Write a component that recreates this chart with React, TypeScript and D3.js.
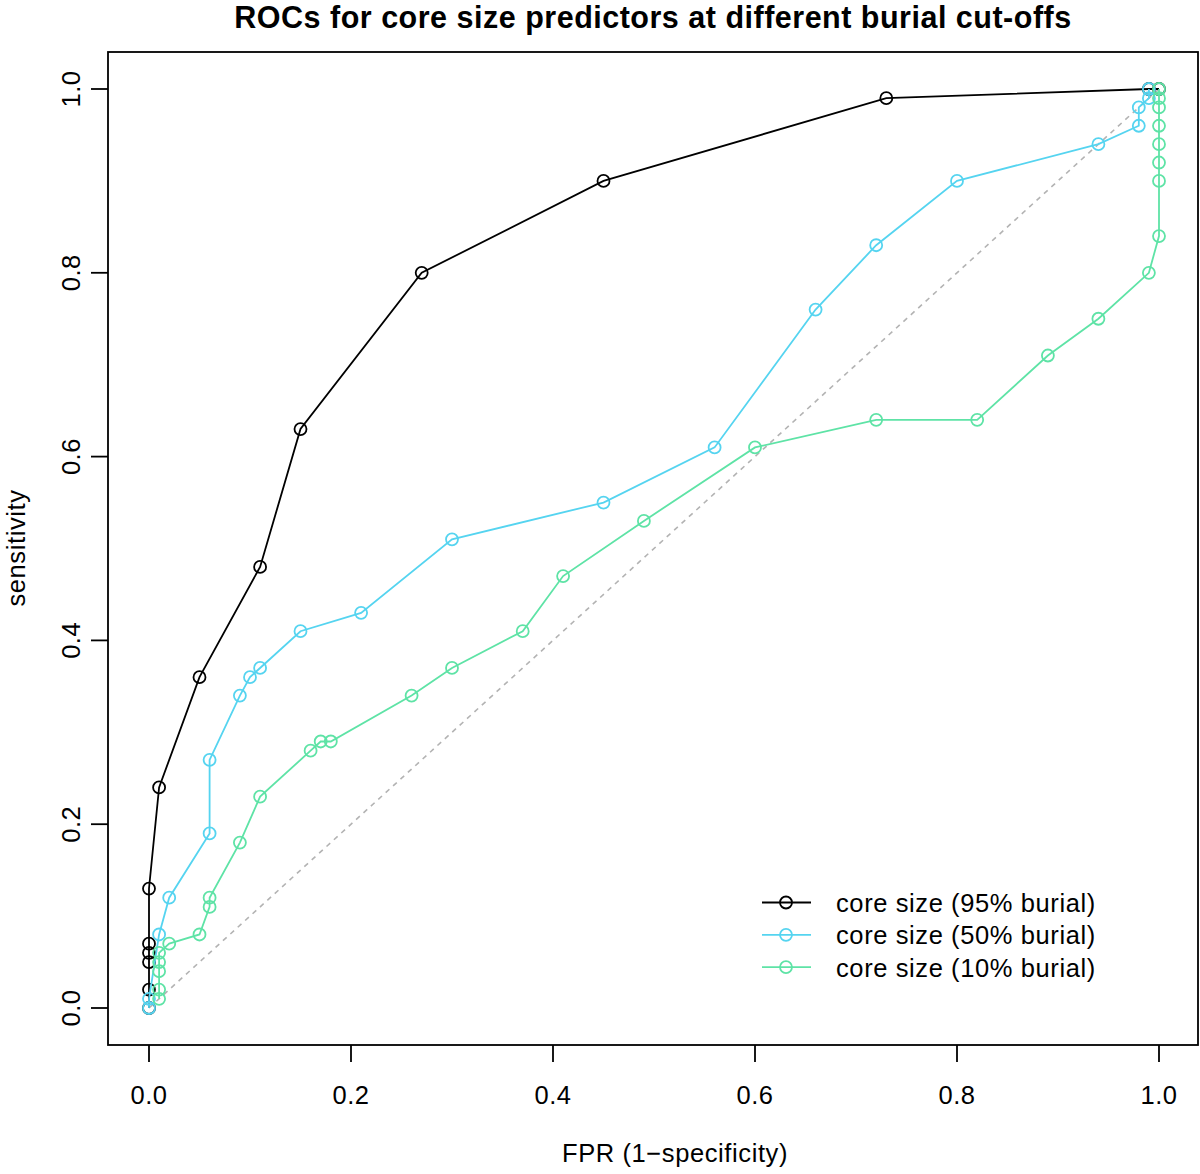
import React from "react";
import * as d3 from "d3";

const xTicks = [0, 0.2, 0.4, 0.6, 0.8, 1.0];
const yTicks = [0, 0.2, 0.4, 0.6, 0.8, 1.0];

const fpr95 = [0, 0, 0, 0, 0, 0, 0.01, 0.05, 0.11, 0.15, 0.27, 0.45, 0.73, 0.99, 1.0];
const tpr95 = [0, 0.02, 0.05, 0.06, 0.07, 0.13, 0.24, 0.36, 0.48, 0.63, 0.8, 0.9, 0.99, 1.0, 1.0];

const fpr50 = [0, 0, 0.01, 0.02, 0.06, 0.06, 0.09, 0.1, 0.11, 0.15, 0.21, 0.3, 0.45, 0.56, 0.66, 0.72, 0.8, 0.94, 0.98, 0.98, 0.99, 0.99];
const tpr50 = [0, 0.01, 0.08, 0.12, 0.19, 0.27, 0.34, 0.36, 0.37, 0.41, 0.43, 0.51, 0.55, 0.61, 0.76, 0.83, 0.9, 0.94, 0.96, 0.98, 0.99, 1.0];

const fpr10 = [0.01, 0.01, 0.01, 0.01, 0.01, 0.02, 0.05, 0.06, 0.06, 0.09, 0.11, 0.16, 0.17, 0.18, 0.26, 0.3, 0.37, 0.41, 0.49, 0.6, 0.72, 0.82, 0.89, 0.94, 0.99, 1.0, 1.0, 1.0, 1.0, 1.0, 1.0, 1.0, 1.0];
const tpr10 = [0.01, 0.02, 0.04, 0.05, 0.06, 0.07, 0.08, 0.11, 0.12, 0.18, 0.23, 0.28, 0.29, 0.29, 0.34, 0.37, 0.41, 0.47, 0.53, 0.61, 0.64, 0.64, 0.71, 0.75, 0.8, 0.84, 0.9, 0.92, 0.94, 0.96, 0.98, 0.99, 1.0];

const seriesNames = ["core size (95% burial)", "core size (50% burial)", "core size (10% burial)"];
const seriesColors = ["#000000", "#55D4F0", "#5EE3A6"];

export default function App() {
  const W = 1200, H = 1174;
  const box = { l: 108, r: 1198, t: 52, b: 1045 };
  const x = d3.scaleLinear().domain([0, 1]).range([149, 1159]);
  const y = d3.scaleLinear().domain([0, 1]).range([1008, 89]);
  const series = [
    fpr95.map((f, i) => [f, tpr95[i]]),
    fpr50.map((f, i) => [f, tpr50[i]]),
    fpr10.map((f, i) => [f, tpr10[i]]),
  ] as [number, number][][];
  const line = d3.line<[number, number]>().x(d => x(d[0])).y(d => y(d[1]));
  const font = "Liberation Sans, Arial, Helvetica, sans-serif";
  const r = 6;
  const fs = 25.5;
  const sw = 1.8;
  return (
    <svg width={W} height={H} style={{ display: "block", position: "absolute", left: 0, top: 0 }} fontFamily={font}>
      <rect x={0} y={0} width={W} height={H} fill="#fff" />
      <text x={(box.l + box.r) / 2} y={28} textAnchor="middle" fontSize={30.5} fontWeight="bold" letterSpacing={0.5}>
        ROCs for core size predictors at different burial cut-offs
      </text>
      <line x1={x(0)} y1={y(0)} x2={x(1)} y2={y(1)} stroke="#b3b3b3" strokeWidth={1.6} strokeDasharray="5,5" />
      {series.map((s, k) => (
        <g key={k}>
          <path d={line(s) || ""} fill="none" stroke={seriesColors[k]} strokeWidth={sw} />
          {s.map((d, i) => (
            <circle key={i} cx={x(d[0])} cy={y(d[1])} r={r} fill="none" stroke={seriesColors[k]} strokeWidth={sw} />
          ))}
        </g>
      ))}
      <rect x={box.l} y={box.t} width={box.r - box.l} height={box.b - box.t} fill="none" stroke="#000" strokeWidth={sw} />
      {xTicks.map(t => (
        <g key={t}>
          <line x1={x(t)} x2={x(t)} y1={box.b} y2={box.b + 17} stroke="#000" strokeWidth={sw} />
          <text x={x(t)} y={1104} textAnchor="middle" fontSize={fs} letterSpacing={0.5}>{t.toFixed(1)}</text>
        </g>
      ))}
      {yTicks.map(t => (
        <g key={t}>
          <line x1={box.l} x2={box.l - 17} y1={y(t)} y2={y(t)} stroke="#000" strokeWidth={sw} />
          <text transform={`translate(80,${y(t)}) rotate(-90)`} textAnchor="middle" fontSize={fs} letterSpacing={0.5}>{t.toFixed(1)}</text>
        </g>
      ))}
      <text x={(box.l + box.r) / 2 + 22} y={1162} textAnchor="middle" fontSize={fs} letterSpacing={0.6}>FPR (1−specificity)</text>
      <text transform={`translate(25,548) rotate(-90)`} textAnchor="middle" fontSize={fs} letterSpacing={0.6}>sensitivity</text>
      {seriesNames.map((n, k) => {
        const ly = 902.5 + k * 32.3;
        return (
          <g key={n}>
            <line x1={762} x2={811} y1={ly} y2={ly} stroke={seriesColors[k]} strokeWidth={sw} />
            <circle cx={786} cy={ly} r={r} fill="none" stroke={seriesColors[k]} strokeWidth={sw} />
            <text x={836} y={ly + 9.5} fontSize={fs} letterSpacing={0.6}>{n}</text>
          </g>
        );
      })}
    </svg>
  );
}
